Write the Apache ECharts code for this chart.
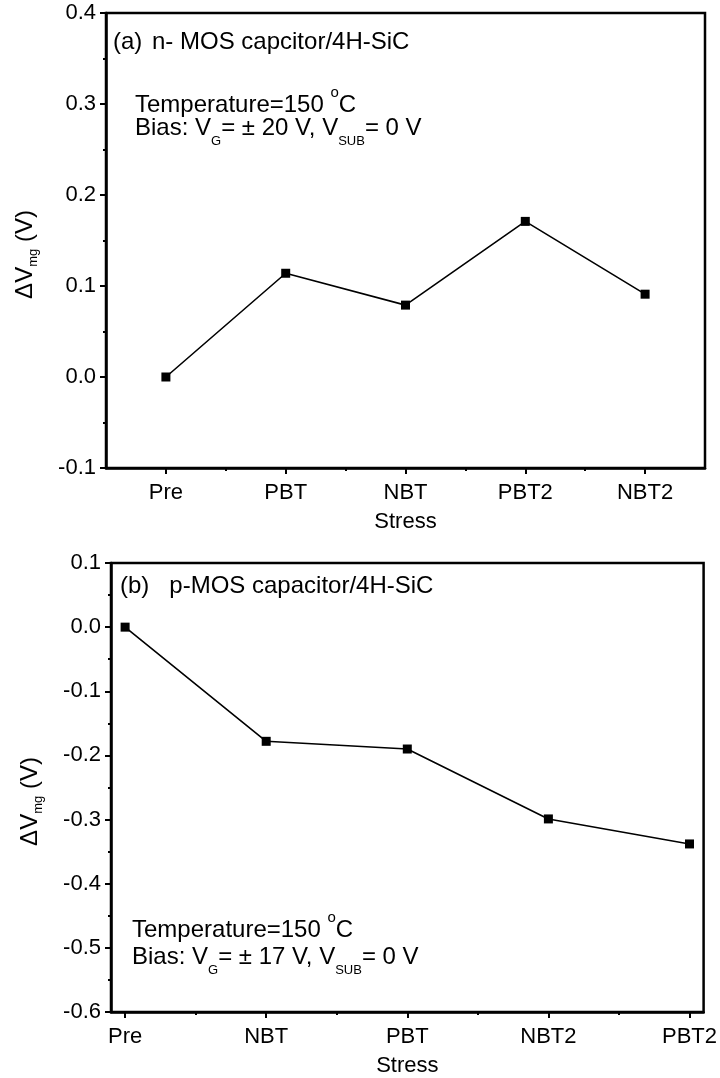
<!DOCTYPE html>
<html><head><meta charset="utf-8">
<script src="https://cdn.jsdelivr.net/npm/echarts@6/dist/echarts.min.js"></script>
<style>html,body{margin:0;padding:0;background:#fff}#c{width:720px;height:1078px}</style>
</head><body><div id="c"></div>
<script>
// ---- data ----
const catsA = ['Pre', 'PBT', 'NBT', 'PBT2', 'NBT2'];
const valsA = [0.000, 0.114, 0.079, 0.171, 0.091];
const catsB = ['Pre', 'NBT', 'PBT', 'NBT2', 'PBT2'];
const valsB = [0.000, -0.178, -0.190, -0.299, -0.338];
const yRangeA = [-0.1, 0.4];
const yRangeB = [-0.6, 0.1];
const xTitle = 'Stress';

const FONT = 'Liberation Sans, Arial, Helvetica, sans-serif';
const chart = echarts.init(document.getElementById('c'), null, {renderer: 'canvas'});
const fmtY = v => (Math.abs(v) < 1e-9 ? '0.0' : v.toFixed(1));
const idx = n => Array.from({length: n}, (_, i) => i);
const mids = n => Array.from({length: n - 1}, (_, i) => i + 0.5);

function xAxes(gi, cats, min, max) {
  return [{
    type: 'value', gridIndex: gi, min: min, max: max, position: 'bottom',
    splitLine: {show: false},
    axisLine: {show: true, onZero: false, lineStyle: {color: '#000', width: 2.5}},
    axisTick: {show: true, length: 6, lineStyle: {color: '#000', width: 2}, customValues: idx(cats.length)},
    axisLabel: {show: true, customValues: idx(cats.length), color: '#000', fontSize: 22, fontFamily: FONT, margin: 14,
      formatter: v => cats[Math.round(v)] || ''},
    name: xTitle, nameLocation: 'middle', nameGap: 43,
    nameTextStyle: {color: '#000', fontSize: 22, fontFamily: FONT}
  }, {
    type: 'value', gridIndex: gi, min: min, max: max, position: 'bottom',
    splitLine: {show: false}, axisLine: {show: false, onZero: false},
    axisTick: {show: true, length: 3, lineStyle: {color: '#000', width: 2}, customValues: mids(cats.length)},
    axisLabel: {show: false}
  }];
}
function yAxis(gi, range) {
  return {
    type: 'value', gridIndex: gi, min: range[0], max: range[1], interval: 0.1,
    splitLine: {show: false},
    axisLine: {show: true, onZero: false, lineStyle: {color: '#000', width: 2.5}},
    axisTick: {show: true, length: 6, lineStyle: {color: '#000', width: 2}},
    minorTick: {show: true, splitNumber: 2, length: 3, lineStyle: {color: '#000', width: 2}},
    axisLabel: {color: '#000', fontSize: 22, fontFamily: FONT, margin: 10, formatter: fmtY},
    name: '{d|\u0394V}{s|mg}{d| (V)}', nameLocation: 'middle', nameRotate: 90, nameGap: 66,
    nameTextStyle: {padding: [0, 28, 0, 0], rich: {
      d: {fontSize: 24, fontFamily: FONT, color: '#000', lineHeight: 30, verticalAlign: 'middle'},
      s: {fontSize: 13, fontFamily: FONT, color: '#000', lineHeight: 9, verticalAlign: 'bottom'}
    }}
  };
}
const richNote = {
  big: {fontSize: 24, fontFamily: FONT, fill: '#000', lineHeight: 40, verticalAlign: 'middle'},
  n: {fontSize: 24, fontFamily: FONT, fill: '#000', lineHeight: 40, verticalAlign: 'middle'},
  sp: {fontSize: 24, fontFamily: FONT, fill: '#000', lineHeight: 40, verticalAlign: 'middle', padding: [0, 0, 0, 3]},
  sup: {fontSize: 15, fontFamily: FONT, fill: '#000', lineHeight: 21, verticalAlign: 'top'},
  sub: {fontSize: 13, fontFamily: FONT, fill: '#000', lineHeight: 17, verticalAlign: 'bottom'}
};
function note(left, top, text) {
  return {type: 'text', left: left, top: top, z: 100, style: {text: text, rich: richNote, font: '24px ' + FONT, fill: '#000'}};
}
const line = (xi, yi, vals) => ({
  type: 'line', xAxisIndex: xi, yAxisIndex: yi,
  data: vals.map((v, i) => [i, v]),
  symbol: 'rect', symbolSize: 9, showSymbol: true,
  lineStyle: {color: '#000', width: 1.6}, itemStyle: {color: '#000'},
  animation: false, silent: true
});

const option = {
  backgroundColor: '#fff',
  animation: false,
  grid: [
    {left: 106, top: 13, width: 599, height: 455, show: true, borderColor: '#000', borderWidth: 2.5, backgroundColor: 'transparent'},
    {left: 111, top: 563, width: 596, height: 449, show: true, borderColor: '#000', borderWidth: 2.5, backgroundColor: 'transparent'}
  ],
  xAxis: [].concat(xAxes(0, catsA, -0.5, 4.5), xAxes(1, catsB, -0.1, 4.1)),
  yAxis: [yAxis(0, yRangeA), yAxis(1, yRangeB)],
  series: [line(0, 0, valsA), line(2, 1, valsB)],
  graphic: [
    note(113, 30, '{big|(a)}{sp| n- MOS capcitor/4H-SiC}'),
    note(135, 85, '{n|Temperature=150 }{sup|o}{n|C}'),
    note(135, 116, '{n|Bias: V}{sub|G}{n|= \u00B1 20 V, V}{sub|SUB}{n|= 0 V}'),
    note(120, 574, '{big|(b)}{n|   p-MOS capacitor/4H-SiC}'),
    note(132, 910, '{n|Temperature=150 }{sup|o}{n|C}'),
    note(132, 945, '{n|Bias: V}{sub|G}{n|= \u00B1 17 V, V}{sub|SUB}{n|= 0 V}')
  ]
};
chart.setOption(option);
</script></body></html>
